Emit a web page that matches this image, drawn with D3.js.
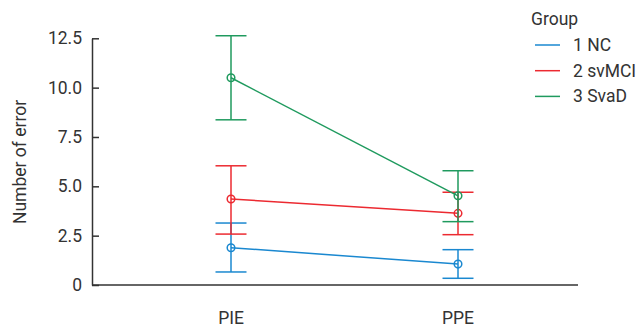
<!DOCTYPE html>
<html><head><meta charset="utf-8">
<script src="https://cdn.jsdelivr.net/npm/d3@7"></script>
<style>body{margin:0;background:#fff}svg{display:block}text{font-family:Roboto,"Noto Sans",sans-serif;fill:#333}</style>
</head><body><svg id="c" width="636" height="330"></svg>
<script>
const categories = ["PIE", "PPE"];
const groups = ["1 NC", "2 svMCI", "3 SvaD"];
const colors = ["#1a88d0", "#ec2a31", "#1f9a5e"];
const meanNC = [1.89, 1.06];
const lowNC = [0.66, 0.34];
const highNC = [3.14, 1.79];
const meanSvMCI = [4.36, 3.63];
const lowSvMCI = [2.58, 2.55];
const highSvMCI = [6.04, 4.70];
const meanSvaD = [10.50, 4.52];
const lowSvaD = [8.37, 3.21];
const highSvaD = [12.63, 5.79];
const yTicks = [0, 2.5, 5, 7.5, 10, 12.5];
const legendTitle = "Group";
const yLabel = "Number of error";

const series = [
  {name: groups[0], color: colors[0], mean: meanNC, low: lowNC, high: highNC},
  {name: groups[1], color: colors[1], mean: meanSvMCI, low: lowSvMCI, high: highSvMCI},
  {name: groups[2], color: colors[2], mean: meanSvaD, low: lowSvaD, high: highSvaD}
];

const svg = d3.select("#c");
const x0 = 92, x1 = 578, yTop = 38.3, yBot = 285;
const y = d3.scaleLinear().domain([0, 12.5]).range([yBot, yTop]);
const x = d3.scalePoint().domain(categories).range([x0, x1]).padding(0.6);
x.range([x0, x1]);
// place PIE at 231, PPE at 458 via padding
const xs = d3.scaleLinear().domain([0, 1]).range([231, 458]);
const xp = c => xs(categories.indexOf(c));

const yAxis = d3.axisLeft(y).tickValues(yTicks).tickSizeInner(-7).tickSizeOuter(0).tickPadding(10)
  .tickFormat(d => d === 0 ? "0" : d3.format(".1f")(d));
const gy = svg.append("g").attr("transform", `translate(${x0},0)`).call(yAxis);
gy.select(".domain").attr("stroke", "#333").attr("stroke-width", 1.5);
gy.selectAll(".tick line").attr("stroke", "#333").attr("stroke-width", 1.5);
gy.selectAll(".tick text").attr("font-size", 17.5).style("fill", "#333");

svg.append("line").attr("x1", x0).attr("x2", x1).attr("y1", yBot).attr("y2", yBot)
  .attr("stroke", "#333").attr("stroke-width", 1.5);

categories.forEach(c => {
  svg.append("text").attr("x", xp(c)).attr("y", 324).attr("text-anchor", "middle")
    .attr("font-size", 17.5).text(c);
});

svg.append("text").attr("transform", `translate(26,162) rotate(-90)`).attr("text-anchor", "middle")
  .attr("font-size", 17.5).text(yLabel);

const cap = 15.5;
series.forEach(s => {
  const g = svg.append("g");
  categories.forEach((c, i) => {
    const cx = xp(c);
    g.append("line").attr("x1", cx).attr("x2", cx).attr("y1", y(s.low[i])).attr("y2", y(s.high[i]))
      .attr("stroke", s.color).attr("stroke-width", 1.5);
    [s.low[i], s.high[i]].forEach(v => {
      g.append("line").attr("x1", cx - cap).attr("x2", cx + cap).attr("y1", y(v)).attr("y2", y(v))
        .attr("stroke", s.color).attr("stroke-width", 1.5);
    });
  });
  g.append("path").datum(s.mean)
    .attr("d", d3.line().x((d, i) => xp(categories[i])).y(d => y(d)))
    .attr("fill", "none").attr("stroke", s.color).attr("stroke-width", 1.5);
  g.selectAll("circle").data(s.mean).join("circle")
    .attr("cx", (d, i) => xp(categories[i])).attr("cy", d => y(d)).attr("r", 3.8)
    .attr("fill", "none").attr("stroke", s.color).attr("stroke-width", 1.5);
});

const lg = svg.append("g");
lg.append("text").attr("x", 531).attr("y", 25).attr("font-size", 17.5).text(legendTitle);
series.forEach((s, i) => {
  const ly = 45 + i * 25.7;
  lg.append("line").attr("x1", 535).attr("x2", 560).attr("y1", ly).attr("y2", ly)
    .attr("stroke", s.color).attr("stroke-width", 1.5);
  lg.append("text").attr("x", 573).attr("y", ly + 6).attr("font-size", 17.5).text(s.name);
});
</script></body></html>
